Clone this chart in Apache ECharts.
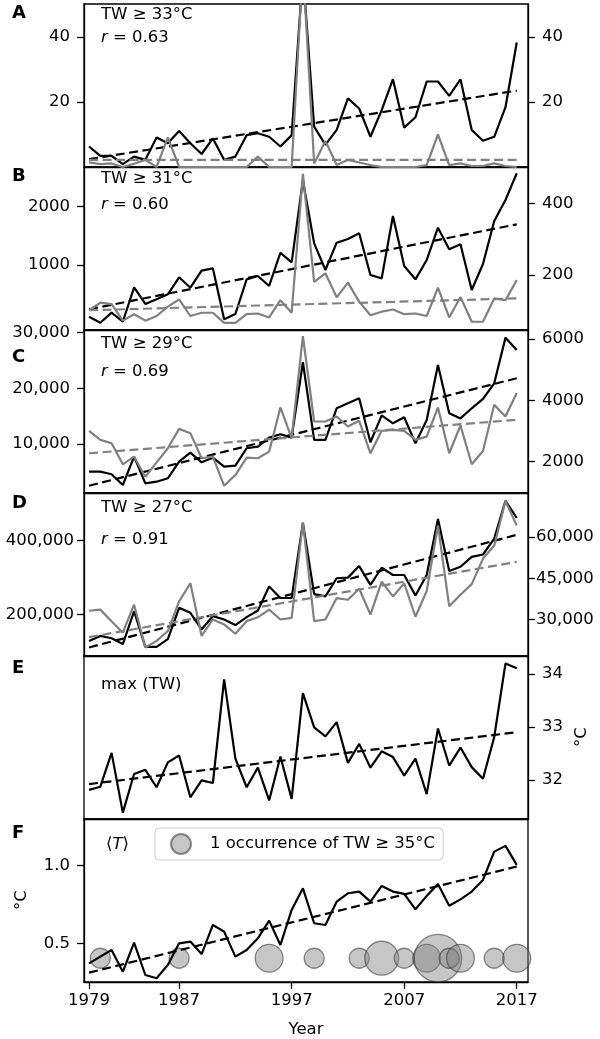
<!DOCTYPE html>
<html><head><meta charset="utf-8">
<script src="https://cdn.jsdelivr.net/npm/echarts@6/dist/echarts.min.js"></script>
<style>html,body{margin:0;padding:0;background:#fff}#c{width:600px;height:1039px}</style>
</head><body><div id="c"></div>
<script>
// ---------------- data ----------------
const years = [1979,1980,1981,1982,1983,1984,1985,1986,1987,1988,1989,1990,1991,1992,1993,1994,1995,1996,1997,1998,1999,2000,2001,2002,2003,2004,2005,2006,2007,2008,2009,2010,2011,2012,2013,2014,2015,2016,2017];
const xTicks = [1979,1987,1997,2007,2017];

const aBlack = [6.3,3.4,3.4,0.9,3.2,2.2,9.1,7.3,11.1,7.3,4.0,8.8,2.2,3.2,9.8,10.4,9.3,6.3,9.8,60,12.4,6.8,11.4,21.1,18.0,9.3,17.5,27.0,12.1,15.3,26.3,26.3,21.9,27.0,11.4,8.1,9.3,18.4,38.3];
const aGray  = [1.4,0.9,1.1,0,1,2.2,0,9.1,0,0,0,0,0,0,0,3.2,0,0,0,62,1.1,8,0.6,2.2,1.4,0.6,0,0,0,0,0.6,10,0.6,1.1,0.3,0.3,1.1,0.3,0];
const aTrendBlack = [2.4,23.5];
const aTrendGray  = [2.2,2.2];
const aTicks = [20,40];

const bBlack = [113,10,182,27,617,331,411,497,789,610,902,943,69,159,754,811,640,1210,1046,2450,1371,914,1382,1445,1543,828,771,1840,982,754,1085,1639,1268,1354,571,1017,1754,2114,2572];
const bGray  = [102,123,119,73,91,73,86,112,132,86,95,95,67,67,91,93,82,130,95,482,181,205,138,179,126,88,98,104,91,93,86,165,82,139,70,70,135,130,186];
const bTrendBlack = [240,1697];
const bTrendGray  = [102,135];
const bLeftTicks = [1000,2000];
const bRightTicks = [200,400];

const cBlack = [5026,5026,4560,2640,7720,2940,3230,3840,6820,8440,6710,7540,5920,6100,9230,9510,11130,11740,11130,24660,10720,10720,16400,17300,18200,10300,15130,13710,14790,10120,14310,24180,15490,14590,16400,18080,20890,29080,26870];
const cGray  = [3007,2712,2603,1915,2164,1508,1980,2440,3072,2931,2112,2164,1213,1564,2131,2112,2328,3771,2767,6099,3312,3312,3476,3148,3335,2275,3007,3040,3007,2712,2820,3771,2275,3181,1915,2351,3859,3476,4243];
const cTrendBlack = [2510,21790];
const cTrendGray  = [2275,3367];
const cLeftTicks = [10000,20000,30000];
const cRightTicks = [2000,4000,6000];

const dBlack = [128800,142200,136000,120000,208800,112800,112800,133400,217900,204600,160000,195500,186700,171500,192800,210700,275500,244600,244600,447200,255200,248800,297900,299600,330700,280000,326200,306700,306700,251500,306700,457900,317400,328900,355600,362000,404700,506700,460500];
const dGray  = [33200,33600,29400,25200,35400,19800,22200,25800,36600,43200,24000,30000,28200,24800,29400,30800,33600,30000,30600,65400,29400,30000,37800,37200,41200,31800,43800,38400,43200,31000,40400,64200,34800,39000,42900,52200,57000,73200,64200];
const dTrendBlack = [111000,415000];
const dTrendGray  = [23600,51000];
const dLeftTicks = [200000,400000];
const dRightTicks = [30000,45000,60000];

const eMaxTW = [31.81,31.87,32.51,31.38,32.11,32.19,31.86,32.33,32.46,31.67,31.99,31.94,33.90,32.40,31.86,32.23,31.61,32.44,31.64,33.64,32.99,32.82,33.09,32.32,32.68,32.23,32.54,32.43,32.08,32.40,31.73,32.97,32.27,32.61,32.24,32.02,32.81,34.20,34.11];
const eTrend = [31.92,32.90];
const eTicks = [32,33,34];

const fMeanT = [0.371,0.414,0.457,0.317,0.504,0.296,0.275,0.361,0.500,0.511,0.431,0.618,0.575,0.414,0.457,0.532,0.646,0.489,0.715,0.854,0.629,0.618,0.768,0.822,0.833,0.768,0.869,0.833,0.818,0.719,0.805,0.882,0.742,0.783,0.833,0.908,1.090,1.127,1.005];
const fTrend = [0.311,0.994];
const fTicks = [0.5,1.0];
const occYears  = [1980,1987,1995,1999,2003,2005,2007,2009,2010,2011,2012,2015,2017];
const occCounts = [1,1,2,1,1,3,1,2,6,1,2,1,2];
const occLevel = 0.404;

const panelLetters = ['A','B','C','D','E','F'];
const thresholdLabels = ['TW \u2265 33\u00b0C','TW \u2265 31\u00b0C','TW \u2265 29\u00b0C','TW \u2265 27\u00b0C'];
const rValues = ['0.63','0.60','0.69','0.91'];
const occName = '1 occurrence of TW \u2265 35\u00b0C';

// ---------------- layout ----------------
const FONT = 'DejaVu Sans';
const FS = 16.5;
const L = 84, W = 444, H = 163;
const tops = [4,167,330,493,656,819];
const comma = v => String(Math.round(v)).replace(/\B(?=(\d{3})+(?!\d))/g, ',');
const plain = v => String(v);

const grid = tops.map(t => ({left:L, width:W, top:t, height:H, show:true, borderColor:'#000', borderWidth:1.3, backgroundColor:'transparent'}));

const xAxis = tops.map((t,i) => {
  const last = i === tops.length-1;
  return {type:'value', gridIndex:i, min:1978.55, max:2018, splitLine:{show:false},
    axisLine:{show:true, onZero:false, lineStyle:{color:'#000', width:1.3}},
    axisTick:{show:last, customValues:xTicks, length:7, lineStyle:{color:'#000', width:1.3}},
    axisLabel:{show:last, customValues:xTicks, formatter:plain, margin:10, color:'#000', fontSize:FS, fontFamily:FONT}};
});

function yAx(g, pos, min, max, ticks, fmt, margin){
  return {type:'value', gridIndex:g, position:pos, min, max, splitLine:{show:false},
    axisLine:{show:true, onZero:false, lineStyle:{color:'#000', width:1.3}},
    axisTick:{show:true, customValues:ticks, length:7, lineStyle:{color:'#000', width:1.3}},
    axisLabel:{customValues:ticks, formatter:fmt, margin, color:'#000', fontSize:FS, fontFamily:FONT}};
}
const yAxis = [
  yAx(0,'left',0,50.15,aTicks,plain,14),
  yAx(0,'right',0,50.15,aTicks,plain,14),
  yAx(1,'left',-115,2680,bLeftTicks,plain,14),
  yAx(1,'right',47,501,bRightTicks,plain,14),
  yAx(2,'left',1200,30450,cLeftTicks,comma,14),
  yAx(2,'right',979,6297,cRightTicks,plain,14),
  yAx(3,'left',88000,528000,dLeftTicks,comma,10),
  yAx(3,'right',16700,76100,dRightTicks,comma,8),
  yAx(4,'right',31.26,34.34,eTicks,plain,14),
  yAx(5,'left',0.251,1.30,fTicks,v=>v.toFixed(1),14)
];

const DASH = [9,4.5];
function line(xi, yi, vals, color, z){
  return {type:'line', xAxisIndex:xi, yAxisIndex:yi, data:years.map((y,i)=>[y,vals[i]]), symbol:'none',
    lineStyle:{color, width:2.2}, itemStyle:{color}, silent:true, z, clip:true};
}
function trend(xi, yi, ends, color, z){
  return {type:'line', xAxisIndex:xi, yAxisIndex:yi, data:[[years[0],ends[0]],[years[years.length-1],ends[1]]], symbol:'none',
    lineStyle:{color, width:2.2, type:DASH}, itemStyle:{color}, silent:true, z, clip:true};
}
const GRAY = '#808080', BLACK = '#000';
const series = [];
const panelsData = [
  [aBlack,aGray,aTrendBlack,aTrendGray],
  [bBlack,bGray,bTrendBlack,bTrendGray],
  [cBlack,cGray,cTrendBlack,cTrendGray],
  [dBlack,dGray,dTrendBlack,dTrendGray]
];
panelsData.forEach((p,i) => {
  series.push(line(i, 2*i, p[0], BLACK, 3));
  series.push(trend(i, 2*i, p[2], BLACK, 3));
  series.push(line(i, 2*i+1, p[1], GRAY, 4));
  series.push(trend(i, 2*i+1, p[3], GRAY, 4));
});
series.push(line(4, 8, eMaxTW, BLACK, 3));
series.push(trend(4, 8, eTrend, BLACK, 3));
series.push(line(5, 9, fMeanT, BLACK, 3));
series.push(trend(5, 9, fTrend, BLACK, 3));
series.push({type:'scatter', name:occName, xAxisIndex:5, yAxisIndex:9,
  data: occYears.map((y,i)=>[y, occLevel, occCounts[i]]),
  symbolSize: v => 19*Math.sqrt(v[2]) + 1,
  itemStyle:{color:'rgba(128,128,128,0.45)', borderColor:'rgba(50,50,50,0.55)', borderWidth:1.3, opacity:1},
  silent:true, z:2, clip:true});

const graphic = [];
const letterY = [13,176,357,503,668,833];
panelLetters.forEach((t,i) => graphic.push({type:'text', x:12, y:letterY[i], style:{text:t, font:'bold 18px "DejaVu Sans"', fill:'#000', textVerticalAlign:'middle'}}));
const thrY = [15,179,344,508];
const rY = [38,205,372,540];
thresholdLabels.forEach((t,i) => {
  graphic.push({type:'text', x:101, y:thrY[i], style:{text:t, font:FS+'px "DejaVu Sans"', fill:'#000', textVerticalAlign:'middle'}});
  graphic.push({type:'text', x:101, y:rY[i], style:{text:'{i|r} = '+rValues[i], font:FS+'px "DejaVu Sans"', fill:'#000', textVerticalAlign:'middle',
    rich:{i:{fontStyle:'italic', fontSize:FS, fontFamily:FONT, fill:'#000'}}}});
});
graphic.push({type:'text', x:101, y:685, style:{text:'max (TW)', font:FS+'px "DejaVu Sans"', fill:'#000', textVerticalAlign:'middle'}});
graphic.push({type:'text', x:106, y:845, style:{text:'\u27e8{i|T}\u27e9', font:FS+'px "DejaVu Sans"', fill:'#000', textVerticalAlign:'middle',
  rich:{i:{fontStyle:'italic', fontSize:FS, fontFamily:FONT, fill:'#000'}}}});
graphic.push({type:'text', x:582, y:737, rotation:Math.PI/2, style:{text:'\u00b0C', font:FS+'px "DejaVu Sans"', fill:'#000', textAlign:'center', textVerticalAlign:'middle'}});
graphic.push({type:'text', x:22, y:900, rotation:Math.PI/2, style:{text:'\u00b0C', font:FS+'px "DejaVu Sans"', fill:'#000', textAlign:'center', textVerticalAlign:'middle'}});
graphic.push({type:'text', x:306, y:1030, style:{text:'Year', font:FS+'px "DejaVu Sans"', fill:'#000', textAlign:'center', textVerticalAlign:'middle'}});

const option = {
  animation:false,
  backgroundColor:'#fff',
  grid, xAxis, yAxis, series, graphic,
  legend:{data:[{name:occName, icon:'circle'}], left:155, top:828, orient:'horizontal', selectedMode:false,
    itemWidth:20, itemHeight:20, padding:[5,8,5,15], borderColor:'#cccccc', borderWidth:1, borderRadius:4,
    backgroundColor:'rgba(255,255,255,0.8)',
    textStyle:{fontSize:FS, fontFamily:FONT, color:'#000', padding:[0,0,0,14]}}
};
const chart = echarts.init(document.getElementById('c'), null, {renderer:'canvas'});
chart.setOption(option);
</script></body></html>
